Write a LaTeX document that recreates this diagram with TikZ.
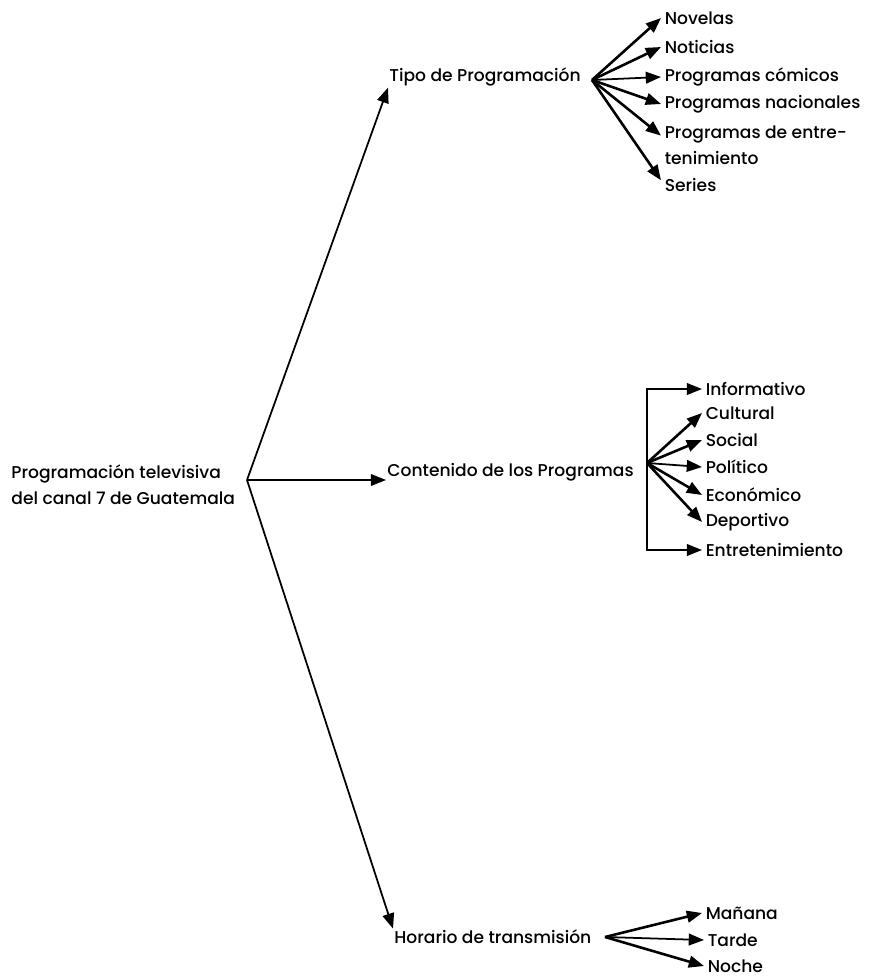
\documentclass[tikz,border=0pt]{standalone}
\usepackage{fontspec}
\setmainfont{Poppins}[UprightFont=* Medium]
\usetikzlibrary{arrows.meta,positioning}

\begin{document}
\begin{tikzpicture}[x=0.03cm, y=-0.03cm, >={Triangle[length=13pt,width=10pt]},
  txt/.style={inner sep=1pt, anchor=west, align=left, font=\fontsize{14.6}{22.5}\selectfont},
  hojatxt/.style={txt, inner xsep=3pt},
  rama/.style={->, line width=1.5pt},
  hoja/.style={->, line width=2.2pt}]
\useasboundingbox (0,0) rectangle (868,980);

% Raiz
\node[txt] (prog) at (10,485) {Programación televisiva\\del canal 7 de Guatemala};
\coordinate (hub) at (247,480);
\node[txt] (tipo) at (388,77) {Tipo de Programación};
\node[txt] (cont) at (386,472) {Contenido de los Programas};
\node[txt] (hor) at (393,937) {Horario de transmisión};
\draw[rama] (hub) -- (tipo.south west);
\draw[rama] (hub) -- (hub -| cont.west);
\draw[rama] (hub) -- (hor.north west);

% Tipo de programacion
\coordinate (tfan) at (592,80);
\node[hojatxt] (nov) at (661,18) {Novelas};
\node[hojatxt] (noti) at (661,47) {Noticias};
\node[hojatxt] (comi) at (661,77) {Programas cómicos};
\node[hojatxt] (naci) at (661,104) {Programas nacionales};
\node[hojatxt] (entre) at (661,145) {Programas de entre-\\tenimiento};
\node[hojatxt] (seri) at (661,185) {Series};
\draw[hoja] (tfan) -- (nov.west);
\draw[hoja] (tfan) -- (noti.west);
\draw[rama] (tfan) -- (comi.west);
\draw[hoja] (tfan) -- (naci.west);
\draw[hoja] (tfan) -- ([yshift=8pt]entre.west);
\draw[hoja] (tfan) -- ([yshift=4pt]seri.west);

% Contenido
\coordinate (cfan) at (647,463);
\node[hojatxt] (info) at (702,389) {Informativo};
\node[hojatxt] (cult) at (702,413) {Cultural};
\node[hojatxt] (soci) at (702,440) {Social};
\node[hojatxt] (poli) at (702,467) {Político};
\node[hojatxt] (econ) at (702,495) {Económico};
\node[hojatxt] (depo) at (702,522) {Deportivo};
\node[hojatxt] (entr) at (702,550) {Entretenimiento};
\draw[rama] (cfan) |- (info.west);
\draw[hoja] (cfan) -- (cult.west);
\draw[hoja] (cfan) -- (soci.west);
\draw[rama] (cfan) -- (poli.west);
\draw[hoja] (cfan) -- (econ.west);
\draw[hoja] (cfan) -- (depo.west);
\draw[rama] (cfan) |- (entr.west);

% Horario
\coordinate (hfan) at (605,937);
\node[hojatxt] (mana) at (702,913) {Mañana};
\node[hojatxt] (tard) at (704,940) {Tarde};
\node[hojatxt] (noch) at (704,966) {Noche};
\draw[hoja] (hfan) -- (mana.west);
\draw[rama] (hfan) -- (tard.west);
\draw[hoja] (hfan) -- (noch.west);
\end{tikzpicture}
\end{document}
